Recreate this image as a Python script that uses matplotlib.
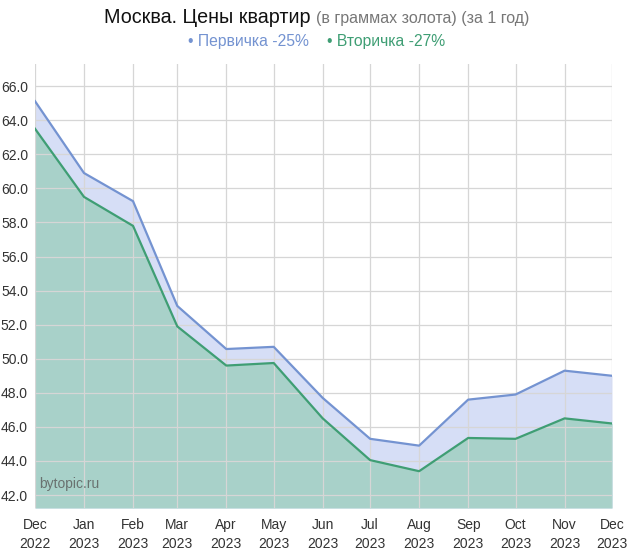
import datetime as dt
import matplotlib
matplotlib.use('Agg')
import matplotlib.pyplot as plt
from matplotlib.ticker import FuncFormatter, MultipleLocator

plt.rcParams['font.family'] = ['Liberation Sans', 'DejaVu Sans']

# data
months = [dt.date(2022, 12, 1)] + [dt.date(2023, m, 1) for m in range(1, 13)]
primary = [65.12, 60.9, 59.25, 53.1, 50.57, 50.7, 47.7, 45.3, 44.9, 47.6, 47.9, 49.3, 49.0]
secondary = [63.5, 59.5, 57.8, 51.9, 49.6, 49.75, 46.5, 44.05, 43.4, 45.35, 45.3, 46.5, 46.2]
tick_labels = ['Dec\n2022', 'Jan\n2023', 'Feb\n2023', 'Mar\n2023', 'Apr\n2023', 'May\n2023',
               'Jun\n2023', 'Jul\n2023', 'Aug\n2023', 'Sep\n2023', 'Oct\n2023', 'Nov\n2023',
               'Dec\n2023']

blue = '#7493d1'
blue_fill = '#d6def6'
green = '#3f9e74'
green_fill = '#a8d1c9'

fig = plt.figure(figsize=(6.33, 5.51), dpi=100)
ax = fig.add_axes([35/633, 1-508/551, (612-35)/633, (508-64)/551])

ymin = 41.24
ax.fill_between(months, primary, ymin, color=blue_fill, lw=0, zorder=1)
ax.fill_between(months, secondary, ymin, color=green_fill, lw=0, zorder=2)
ax.plot(months, primary, color=blue, lw=1.6, zorder=4)
ax.plot(months, secondary, color=green, lw=1.6, zorder=4)

ax.set_xlim(months[0], months[-1])
ax.set_ylim(ymin, 67.3)
ax.set_xticks(months)
ax.set_xticklabels(tick_labels, linespacing=1.45)
ax.yaxis.set_major_locator(MultipleLocator(2))
ax.yaxis.set_major_formatter(FuncFormatter(lambda v, p: f'{v:.1f}'))
ax.grid(True, color='#d6d6d6', lw=0.9, zorder=3)
ax.set_axisbelow(False)
for s in ax.spines.values():
    s.set_visible(False)
ax.tick_params(length=0, labelsize=10, colors='#333333')
ax.tick_params(axis='y', pad=5)
ax.tick_params(axis='x', pad=7)

ax.text(0.008, 0.045, 'bytopic.ru', transform=ax.transAxes, fontsize=10,
        color='#5a5a5a', alpha=0.8, zorder=5)

# title in two colours
fig.canvas.draw()
r = fig.canvas.get_renderer()


def chain(parts, y, cx):
    objs = []
    for txt, col, size in parts:
        objs.append(fig.text(0, y, txt, color=col, fontsize=size, va='baseline'))
    widths = [o.get_window_extent(r).width for o in objs]
    total = sum(widths)
    x = cx * fig.bbox.width - total / 2
    for o, w in zip(objs, widths):
        o.set_x(x / fig.bbox.width)
        x += w


chain([('Москва. Цены квартир ', '#111111', 14.2),
       ('(в граммах золота) (за 1 год)', '#777777', 11.5)], 1 - 23/551, 0.5)
chain([('• Первичка -25%', blue, 11.3), ('    ', blue, 11.3),
       ('• Вторичка -27%', green, 11.3)], 1 - 46/551, 0.5)

fig.savefig('out.png', dpi=100)
